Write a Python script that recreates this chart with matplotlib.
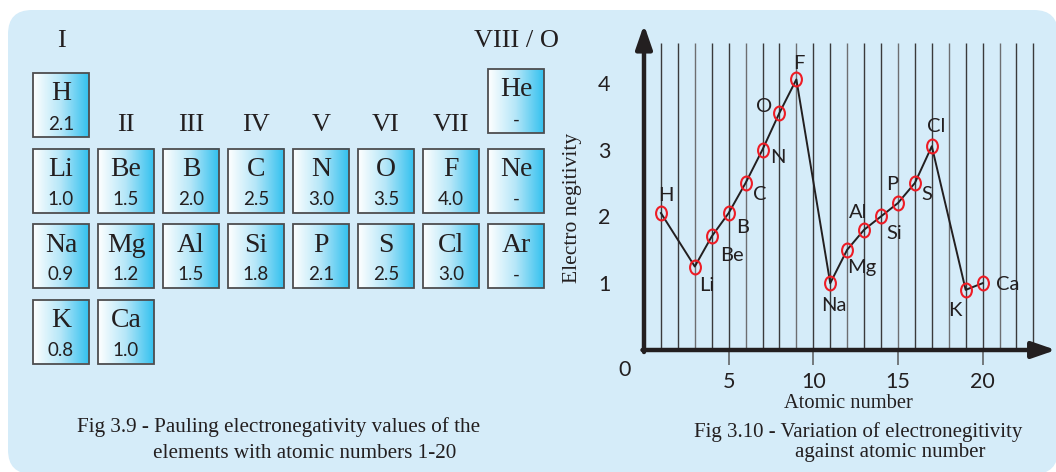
import numpy as np
import matplotlib
matplotlib.use('Agg')
import matplotlib.pyplot as plt
from matplotlib.patches import FancyBboxPatch, Rectangle
from matplotlib.colors import LinearSegmentedColormap
from matplotlib.path import Path
from matplotlib.transforms import Affine2D

# ---- Fig 3.9 : Pauling table -------------------------------------------
symbols = ['H', 'He', 'Li', 'Be', 'B', 'C', 'N', 'O', 'F', 'Ne',
           'Na', 'Mg', 'Al', 'Si', 'P', 'S', 'Cl', 'Ar', 'K', 'Ca']
en_values = ['2.1', '-', '1.0', '1.5', '2.0', '2.5', '3.0', '3.5', '4.0', '-',
             '0.9', '1.2', '1.5', '1.8', '2.1', '2.5', '3.0', '-', '0.8', '1.0']
group_col = [0, 7, 0, 1, 2, 3, 4, 5, 6, 7, 0, 1, 2, 3, 4, 5, 6, 7, 0, 1]
period_row = [0, 0, 1, 1, 1, 1, 1, 1, 1, 1, 2, 2, 2, 2, 2, 2, 2, 2, 3, 3]
group_names = ['I', 'II', 'III', 'IV', 'V', 'VI', 'VII', 'VIII / O']

# ---- Fig 3.10 : electronegativity vs atomic number ----------------------
plot_symbols = ['H', 'Li', 'Be', 'B', 'C', 'N', 'O', 'F',
                'Na', 'Mg', 'Al', 'Si', 'P', 'S', 'Cl', 'K', 'Ca']
atomic_number = [1, 3, 4, 5, 6, 7, 8, 9, 11, 12, 13, 14, 15, 16, 17, 19, 20]
plot_en = [2.05, 1.25, 1.7, 2.05, 2.5, 3.0, 3.55, 4.05,
           1.0, 1.5, 1.8, 2.0, 2.2, 2.5, 3.05, 0.9, 1.0]

# label offsets (pixels, right / up) for each point
offsets = {'H': (5, 18), 'Li': (12, -19), 'Be': (20, -19), 'B': (14, -14),
           'C': (14, -12), 'N': (15, -8), 'O': (-15, 6), 'F': (2, 16),
           'Na': (4, -22), 'Mg': (15, -18), 'Al': (-6, 17), 'Si': (13, -17),
           'P': (-6, 19), 'S': (12, -12), 'Cl': (4, 20), 'K': (-11, -21),
           'Ca': (25, -1)}

INK = '#231f20'
SERIF = 'Liberation Serif'
plt.rcParams['font.family'] = ['Lato', 'DejaVu Sans']

fig = plt.figure(figsize=(10.56, 4.72), dpi=100)
bg = fig.add_axes([0, 0, 1, 1])
bg.set_xlim(0, 1056)
bg.set_ylim(472, 0)
bg.axis('off')

# light blue panel
bg.add_patch(FancyBboxPatch((8, 10), 1050, 464,
                            boxstyle='round,pad=0,rounding_size=24',
                            fc='#d5ecf9', ec='none', zorder=0))

# table cells
cell_cmap = LinearSegmentedColormap.from_list('cell', ['#ffffff', '#b4e6f8', '#33c1ef'])
grad = np.linspace(0, 1, 128).reshape(1, -1)
cw, ch = 56, 64
for sym, val, c, r in zip(symbols, en_values, group_col, period_row):
    x0 = 33 + 65 * c
    y0 = 73 + 75.5 * r
    if sym == 'He':
        y0 -= 4
    bg.imshow(grad, cmap=cell_cmap, aspect='auto', extent=(x0, x0 + cw, y0 + ch, y0),
              zorder=1, interpolation='bilinear')
    bg.add_patch(Rectangle((x0, y0), cw, ch, fc='none', ec='#4d4d4f', lw=1.3, zorder=2))
    bg.text(x0 + cw / 2, y0 + 21, sym, ha='center', va='center', family=SERIF,
            fontsize=20, color=INK, zorder=3)
    bg.text(x0 + cw / 2, y0 + 51, val, ha='center', va='center',
            fontsize=13.5, color=INK, zorder=3)

# group headings
for i, g in enumerate(group_names):
    cx = 33 + 65 * i + cw / 2
    if i == 0 or i == 7:
        cy = 41
    else:
        cy = 125
    bg.text(cx, cy, g, ha='center', va='center', family=SERIF, fontsize=19, color=INK)

bg.text(77, 427, 'Fig 3.9 - Pauling electronegativity values of the', ha='left', va='center',
        family=SERIF, fontsize=15.2, color=INK)
bg.text(153, 453, 'elements with atomic numbers 1-20', ha='left', va='center',
        family=SERIF, fontsize=15.2, color=INK)

bg.text(573, 208, 'Electro negitivity', rotation=90, ha='center', va='center',
        family=SERIF, fontsize=15.5, color=INK)
bg.text(848, 403, 'Atomic number', ha='center', va='center', family=SERIF,
        fontsize=14.8, color=INK)
bg.text(694, 432, 'Fig 3.10 - Variation of electronegitivity', ha='left', va='center',
        family=SERIF, fontsize=15, color=INK)
bg.text(795, 453, 'against atomic number', ha='left', va='center',
        family=SERIF, fontsize=15, color=INK)

# ---- the graph ------------------------------------------------------------
ax = fig.add_axes([644 / 1056, (472 - 350) / 472, 412 / 1056, 330 / 472])
ax.patch.set_alpha(0)
ax.set_xlim(0, 412 / 16.93)
ax.set_ylim(0, 330 / 66.8)
for s in ax.spines.values():
    s.set_visible(False)

grid_x = np.arange(1, 24)
grid_col = ['#6d6e71' if k % 3 == 0 else '#3a3a3c' for k in grid_x]
ax.vlines(grid_x, 0, 4.6, colors=grid_col, lw=1.0, zorder=1)

arrow = dict(arrowstyle='-|>,head_length=1.3,head_width=0.45', lw=3.2, color=INK,
             shrinkA=0, shrinkB=0, mutation_scale=11)
ax.annotate('', xy=(0, 4.87), xytext=(0, -0.03), arrowprops=arrow, annotation_clip=False, zorder=4)
ax.annotate('', xy=(24.33, 0), xytext=(-0.09, 0), arrowprops=arrow, annotation_clip=False, zorder=4)

ring = Path.unit_circle().transformed(Affine2D().scale(0.78, 1.0))
ax.plot(atomic_number, plot_en, color=INK, lw=1.4, zorder=2)
ax.plot(atomic_number, plot_en, ls='none', marker=ring, ms=10, mfc='none',
        mec='#ee1c25', mew=1.5, zorder=3)
for sym, xv, yv in zip(plot_symbols, atomic_number, plot_en):
    dx, dy = offsets[sym]
    ax.annotate(sym, (xv, yv), xytext=(dx, dy), textcoords='offset pixels',
                ha='center', va='center', fontsize=14.5, color=INK)

ax.set_xticks([5, 10, 15, 20])
ax.set_yticks([1, 2, 3, 4])
ax.tick_params(axis='x', length=11, width=1.1, color='#58595b', pad=5,
               labelsize=15.5, labelcolor=INK)
ax.tick_params(axis='y', length=0, pad=24, labelsize=15.5, labelcolor=INK)
ax.text(-1.12, -0.3, '0', ha='center', va='center', fontsize=15.5, color=INK)

fig.savefig('out.png', dpi=100)
